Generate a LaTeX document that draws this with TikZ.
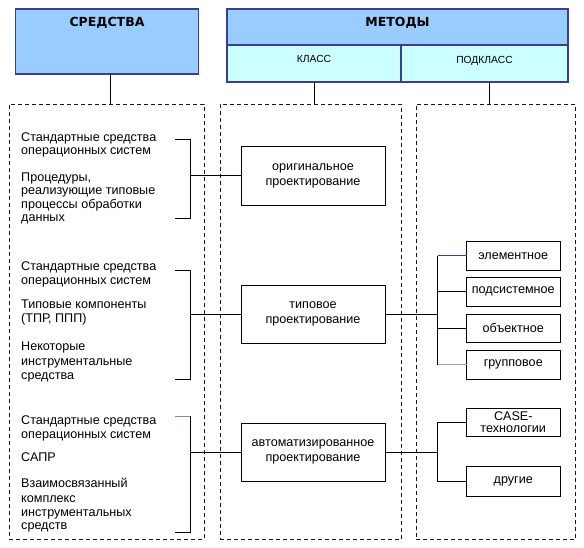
\documentclass[tikz,border=0pt]{standalone}
\usepackage{fontspec}
\setmainfont{Liberation Sans}
\newfontfamily\hdrfont{DejaVu Sans}
\usetikzlibrary{calc}
\definecolor{hdrfill}{RGB}{153,204,255}
\definecolor{subfill}{RGB}{204,255,255}
\definecolor{hdrline}{RGB}{60,60,150}
\definecolor{dashline}{RGB}{20,20,60}
\definecolor{tickblue}{RGB}{120,140,190}
\definecolor{tickdark}{RGB}{60,60,140}
\definecolor{tickgrey}{RGB}{150,160,185}
\begin{document}
\begin{tikzpicture}[x=1pt,y=-1pt,
  hdrbox/.style={draw=hdrline,line width=1.5pt,fill=hdrfill,inner sep=0pt,outer sep=0pt},
  subbox/.style={draw=hdrline,line width=1.5pt,fill=subfill,inner sep=0pt,outer sep=0pt},
  dashbox/.style={draw=dashline,line width=1pt,dash pattern=on 4pt off 3pt,inner sep=0pt,outer sep=0pt},
  classbox/.style={draw,line width=1pt,inner sep=0pt,outer sep=0pt,align=center,font=\fontsize{12.6}{15}\selectfont},
  smallbox/.style={draw,line width=1pt,inner sep=0pt,outer sep=0pt,align=center,minimum width=93.5pt,font=\fontsize{12.6}{12}\selectfont},
  hdrtxt/.style={anchor=base,inner sep=0pt,font=\hdrfont\bfseries\fontsize{12.5}{14}\selectfont},
  subtxt/.style={anchor=base,inner sep=0pt,font=\fontsize{10.3}{12}\selectfont},
  txt/.style={anchor=base west,inner sep=0pt,font=\fontsize{12.6}{14}\selectfont},
  conn/.style={line width=1pt}]
\useasboundingbox (0,0) rectangle (584,547);

% header boxes
\node[hdrbox,minimum width=183pt,minimum height=65pt] (sredbox) at (107,41.5) {};
\node[hdrtxt] (sredtxt) at (107,26) {СРЕДСТВА};
\node[hdrbox,minimum width=341pt,minimum height=36pt] (metbox) at (397.5,27) {};
\node[hdrtxt] (mettxt) at (397.5,26) {МЕТОДЫ};
\node[subbox,minimum width=174pt,minimum height=37pt] (klass) at (314,63.5) {};
\node[subbox,minimum width=167pt,minimum height=37pt] (podklass) at (484.5,63.5) {};
\node[subtxt] (klasstxt) at (314,62.5) {КЛАСС};
\node[subtxt] (podklasstxt) at (484.5,63) {ПОДКЛАСС};

% dashed frames
\node[dashbox,minimum width=195pt,minimum height=435pt] (ldash) at (106.5,321.5) {};
\node[dashbox,minimum width=181.5pt,minimum height=435pt] (mdash) at (310.75,321.5) {};
\node[dashbox,minimum width=159.5pt,minimum height=435pt] (rdash) at (495.75,321.5) {};

% header connectors
\draw[conn] ([xshift=3pt]sredbox.south) -- ([xshift=3pt]sredbox.south |- ldash.north);
\draw[conn] (klass.south) -- (klass.south |- mdash.north);
\draw[conn] ([xshift=4.5pt]podklass.south) -- ([xshift=4.5pt]podklass.south |- rdash.north);

% class boxes
\node[classbox,minimum width=144pt,minimum height=59pt] (orig) at (313,175.5) {оригинальное\\проектирование};
\node[classbox,minimum width=144pt,minimum height=58pt] (tip) at (313,314) {типовое\\проектирование};
\node[classbox,minimum width=144pt,minimum height=58pt] (auto) at (313,452) {автоматизированное\\проектирование};

% subclass boxes
\node[smallbox,minimum height=28.5pt] (elem) at (513.25,255.75) {элементное};
\node[smallbox,minimum height=28.5pt] (podsys) at (513.25,291.75) {подсистемное};
\node[smallbox,minimum height=28.5pt] (obj) at (513.25,328.25) {объектное};
\node[smallbox,minimum height=29pt] (grp) at (513.25,364.5) {групповое};
\node[smallbox,minimum height=28.5pt] (case) at (513.25,422.25) {CASE-\\технологии};
\node[smallbox,minimum height=29.5pt] (drug) at (513.25,481.25) {другие};

% left texts, group 1
\node[txt] (a1) at (21,141) {Стандартные средства};
\node[txt] (a2) at (21,154.5) {операционных систем};
\node[txt] (a3) at (21,181) {Процедуры,};
\node[txt] (a4) at (21,194.5) {реализующие типовые};
\node[txt] (a5) at (21,208) {процессы обработки};
\node[txt] (a6) at (21,221.5) {данных};
% group 2
\node[txt] (b1) at (21,270) {Стандартные средства};
\node[txt] (b2) at (21,284) {операционных систем};
\node[txt] (b3) at (21,308) {Типовые компоненты};
\node[txt] (b4) at (21,322) {(ТПР, ППП)};
\node[txt] (b5) at (21,350.5) {Некоторые};
\node[txt] (b6) at (21,365) {инструментальные};
\node[txt] (b7) at (21,379.5) {средства};
% group 3
\node[txt] (c1) at (21,424.5) {Стандартные средства};
\node[txt] (c2) at (21,438.5) {операционных систем};
\node[txt] (c3) at (21,461) {САПР};
\node[txt] (c4) at (21,487.5) {Взаимосвязанный};
\node[txt] (c5) at (21,502) {комплекс};
\node[txt] (c6) at (21,516) {инструментальных};
\node[txt] (c7) at (21,529.5) {средств};

% left brackets
\coordinate (g1t) at (175,139.5); \coordinate (g1tr) at (190,139.5);
\coordinate (g1b) at (175,218.5); \coordinate (g1br) at (190,218.5);
\coordinate (g1m) at (190,175.5);
\draw[conn] (g1t) -- (g1tr) -- (g1br) -- (g1b);
\draw[conn] (g1m) -- (orig.west);

\coordinate (g2t) at (175,270); \coordinate (g2tr) at (190,270);
\coordinate (g2b) at (175,379); \coordinate (g2br) at (190,379);
\coordinate (g2m) at (190,314);
\draw[conn] (g2t) -- (g2tr) -- (g2br) -- (g2b);
\draw[conn] (g2m) -- (tip.west);

\coordinate (g3t) at (175,416); \coordinate (g3tr) at (190,416);
\coordinate (g3b) at (175,532); \coordinate (g3br) at (190,532);
\coordinate (g3m) at (190,452);
\draw[conn,tickblue] (g3t) -- (g3tr);
\draw[conn] (g3tr) -- (g3br) -- (g3b);
\draw[conn] (g3m) -- (auto.west);

% right trees
\coordinate (tj) at (437.5,314);
\draw[conn] (tip.east) -- (tj);
\draw[conn] (elem.west -| tj) -- (grp.west -| tj);
\draw[conn,tickdark] (elem.west -| tj) -- (elem.west);
\draw[conn] (podsys.west -| tj) -- (podsys.west);
\draw[conn] (obj.west -| tj) -- (obj.west);
\draw[conn,tickgrey] (grp.west -| tj) -- (grp.west);

\coordinate (aj) at (437.5,452);
\draw[conn] (auto.east) -- (aj);
\draw[conn] (case.west -| aj) -- (case.west) ;
\draw[conn] (case.west -| aj) -- (drug.west -| aj) -- (drug.west);
\end{tikzpicture}
\end{document}
